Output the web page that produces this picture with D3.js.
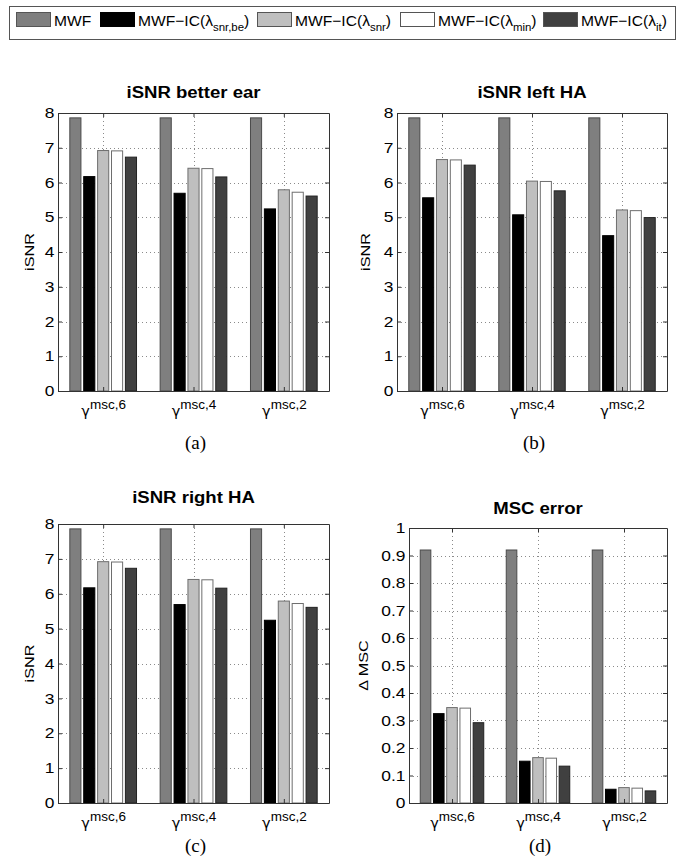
<!DOCTYPE html>
<html>
<head>
<meta charset="utf-8">
<script src="https://cdn.jsdelivr.net/npm/d3@7"></script>
<style>
  body { margin: 0; background: #fff; }
  svg { display: block; font-family: "Liberation Sans", Arial, sans-serif; }
  .grid line { stroke: #8a8a8a; stroke-dasharray: 1,3; }
  .axis path, .axis line { stroke: #333; }
  .axis text { font-size: 14.5px; fill: #000; }
</style>
</head>
<body>
<svg id="chart" width="682" height="865"></svg>
<script>
// data
const groups = ['msc,6', 'msc,4', 'msc,2']
const methods = ['MWF', 'be', 'snr', 'min', 'it']
const methodSubs = [null, 'snr,be', 'snr', 'min', 'it']
const colors = ['#7f7f7f', '#000000', '#bfbfbf', '#ffffff', '#404040']
const strokes = ['#4a4a4a', '#000000', '#6e6e6e', '#6e6e6e', '#222222']

// one array per method, one value per group
const betterEar = [
  [7.86, 7.86, 7.86],
  [6.17, 5.69, 5.24],
  [6.92, 6.41, 5.79],
  [6.91, 6.40, 5.72],
  [6.73, 6.16, 5.61]
]
const leftHA = [
  [7.86, 7.86, 7.86],
  [5.56, 5.07, 4.47],
  [6.66, 6.04, 5.21],
  [6.65, 6.03, 5.19],
  [6.50, 5.76, 4.99]
]
const rightHA = [
  [7.86, 7.86, 7.86],
  [6.17, 5.69, 5.24],
  [6.92, 6.41, 5.79],
  [6.91, 6.40, 5.72],
  [6.73, 6.16, 5.61]
]
const mscError = [
  [0.92, 0.92, 0.92],
  [0.325, 0.152, 0.050],
  [0.347, 0.165, 0.056],
  [0.345, 0.163, 0.054],
  [0.292, 0.134, 0.044]
]
const isnrTicks = [0, 1, 2, 3, 4, 5, 6, 7, 8]
const mscTicks = [0, 0.1, 0.2, 0.3, 0.4, 0.5, 0.6, 0.7, 0.8, 0.9, 1]

const svg = d3.select('#chart')

// the figure's fonts are a bit wider than Arial, so stretch them
const wide = 1.2

// legend
const legend = svg.append('g')
legend.append('rect')
  .attr('x', 9.5).attr('y', 6.5).attr('width', 666).attr('height', 33)
  .attr('fill', '#fff').attr('stroke', '#555')
const legendX = [16, 100, 257, 400, 543]
methods.forEach((m, i) => {
  legend.append('rect')
    .attr('x', legendX[i] + 0.5).attr('y', 12.5)
    .attr('width', 34).attr('height', 14)
    .attr('fill', colors[i]).attr('stroke', strokes[i] === '#000000' ? '#000' : '#555')
  const t = legend.append('text')
    .attr('transform', `translate(${legendX[i] + 38},26) scale(1.04,1)`)
    .attr('font-size', 15).attr('fill', '#000')
  if (methodSubs[i] === null) {
    t.text('MWF')
  } else {
    t.append('tspan').text('MWF\u2212IC(\u03bb')
    t.append('tspan').attr('font-size', 11).attr('dy', 5).text(methodSubs[i])
    t.append('tspan').attr('dy', -5).text(')')
  }
})

const panels = [
  {title: 'iSNR better ear', data: betterEar, ticks: isnrTicks, ymax: 8, ylabel: 'iSNR', tag: '(a)',
   left: 58, right: 329, top: 113, bottom: 391, ylabX: 34, tagY: 449, titleY: 98},
  {title: 'iSNR left HA', data: leftHA, ticks: isnrTicks, ymax: 8, ylabel: 'iSNR', tag: '(b)',
   left: 397, right: 667, top: 113, bottom: 391, ylabX: 370, tagY: 449, titleY: 98},
  {title: 'iSNR right HA', data: rightHA, ticks: isnrTicks, ymax: 8, ylabel: 'iSNR', tag: '(c)',
   left: 58, right: 329, top: 524, bottom: 803, ylabX: 34, tagY: 852, titleY: 503},
  {title: 'MSC error', data: mscError, ticks: mscTicks, ymax: 1, ylabel: '\u0394 MSC', tag: '(d)',
   left: 409, right: 667, top: 528, bottom: 803, ylabX: 368, tagY: 852, titleY: 514}
]

// matlab style grouped bars
const groupWidth = 5 / 6.5
const pitch = groupWidth / 5
const barW = pitch * 0.8

panels.forEach(p => {
  const g = svg.append('g')
  const x = d3.scaleLinear().domain([0.5, 3.5]).range([p.left, p.right])
  const y = d3.scaleLinear().domain([0, p.ymax]).range([p.bottom, p.top])
  const centers = groups.map((s, i) => i + 1)

  // grid
  const grid = g.append('g').attr('class', 'grid')
  grid.selectAll('.h')
    .data(p.ticks.filter(t => t > 0 && t < p.ymax))
    .enter().append('line')
    .attr('x1', p.left).attr('x2', p.right)
    .attr('y1', d => Math.round(y(d)) + 0.5).attr('y2', d => Math.round(y(d)) + 0.5)
  grid.selectAll('.v')
    .data(centers)
    .enter().append('line')
    .attr('x1', d => Math.round(x(d)) + 0.5).attr('x2', d => Math.round(x(d)) + 0.5)
    .attr('y1', p.top).attr('y2', p.bottom)

  // bars
  p.data.forEach((series, j) => {
    g.selectAll('.bar' + j)
      .data(series)
      .enter().append('rect')
      .attr('x', (v, i) => x(i + 1 + (j - 2) * pitch - barW / 2))
      .attr('width', x(barW) - x(0))
      .attr('y', v => y(v))
      .attr('height', v => y(0) - y(v))
      .attr('fill', colors[j])
      .attr('stroke', strokes[j])
      .attr('stroke-width', 1)
  })

  // axes, ticks pointing inward
  g.append('g').attr('class', 'axis')
    .attr('transform', `translate(${p.left},0)`)
    .call(d3.axisLeft(y).tickValues(p.ticks).tickSizeInner(-4).tickSizeOuter(0).tickPadding(3)
      .tickFormat(d3.format('')))
    .selectAll('text').attr('transform', `scale(${wide},1)`)
  g.append('g').attr('class', 'axis')
    .attr('transform', `translate(${p.right},0)`)
    .call(d3.axisRight(y).tickValues(p.ticks).tickSizeInner(-4).tickSizeOuter(0).tickFormat(''))
  g.append('g').attr('class', 'axis')
    .attr('transform', `translate(0,${p.top})`)
    .call(d3.axisTop(x).tickValues(centers).tickSizeInner(-4).tickSizeOuter(0).tickFormat(''))
  const xAxis = g.append('g').attr('class', 'axis')
    .attr('transform', `translate(0,${p.bottom})`)
    .call(d3.axisBottom(x).tickValues(centers).tickSizeInner(-4).tickSizeOuter(0).tickFormat(''))
  xAxis.selectAll('.tick').each(function (d, i) {
    const t = d3.select(this).select('text')
      .attr('y', 25).attr('dy', null)
      .attr('text-anchor', 'middle')
      .attr('font-size', 21)
    t.append('tspan').attr('font-family', '"DejaVu Sans", sans-serif').text('\u03b3')
    t.append('tspan').attr('font-size', 13.5).attr('dy', -7).text(groups[i])
  })

  // title
  g.append('text')
    .attr('transform', `translate(${(p.left + p.right) / 2},${p.titleY}) scale(1.16,1)`)
    .attr('text-anchor', 'middle')
    .attr('font-size', 16).attr('font-weight', 'bold').attr('fill', '#000')
    .text(p.title)

  // y label
  g.append('text')
    .attr('transform', `translate(${p.ylabX},${(p.top + p.bottom) / 2}) rotate(-90) scale(${wide + 0.05},1)`)
    .attr('text-anchor', 'middle')
    .attr('font-size', 13).attr('fill', '#000')
    .text(p.ylabel)

  // panel tag
  g.append('text')
    .attr('x', (p.left + p.right) / 2 + 2).attr('y', p.tagY)
    .attr('text-anchor', 'middle')
    .attr('font-family', '"Liberation Serif", "Times New Roman", serif')
    .attr('font-size', 19).attr('fill', '#000')
    .text(p.tag)
})
</script>
</body>
</html>
